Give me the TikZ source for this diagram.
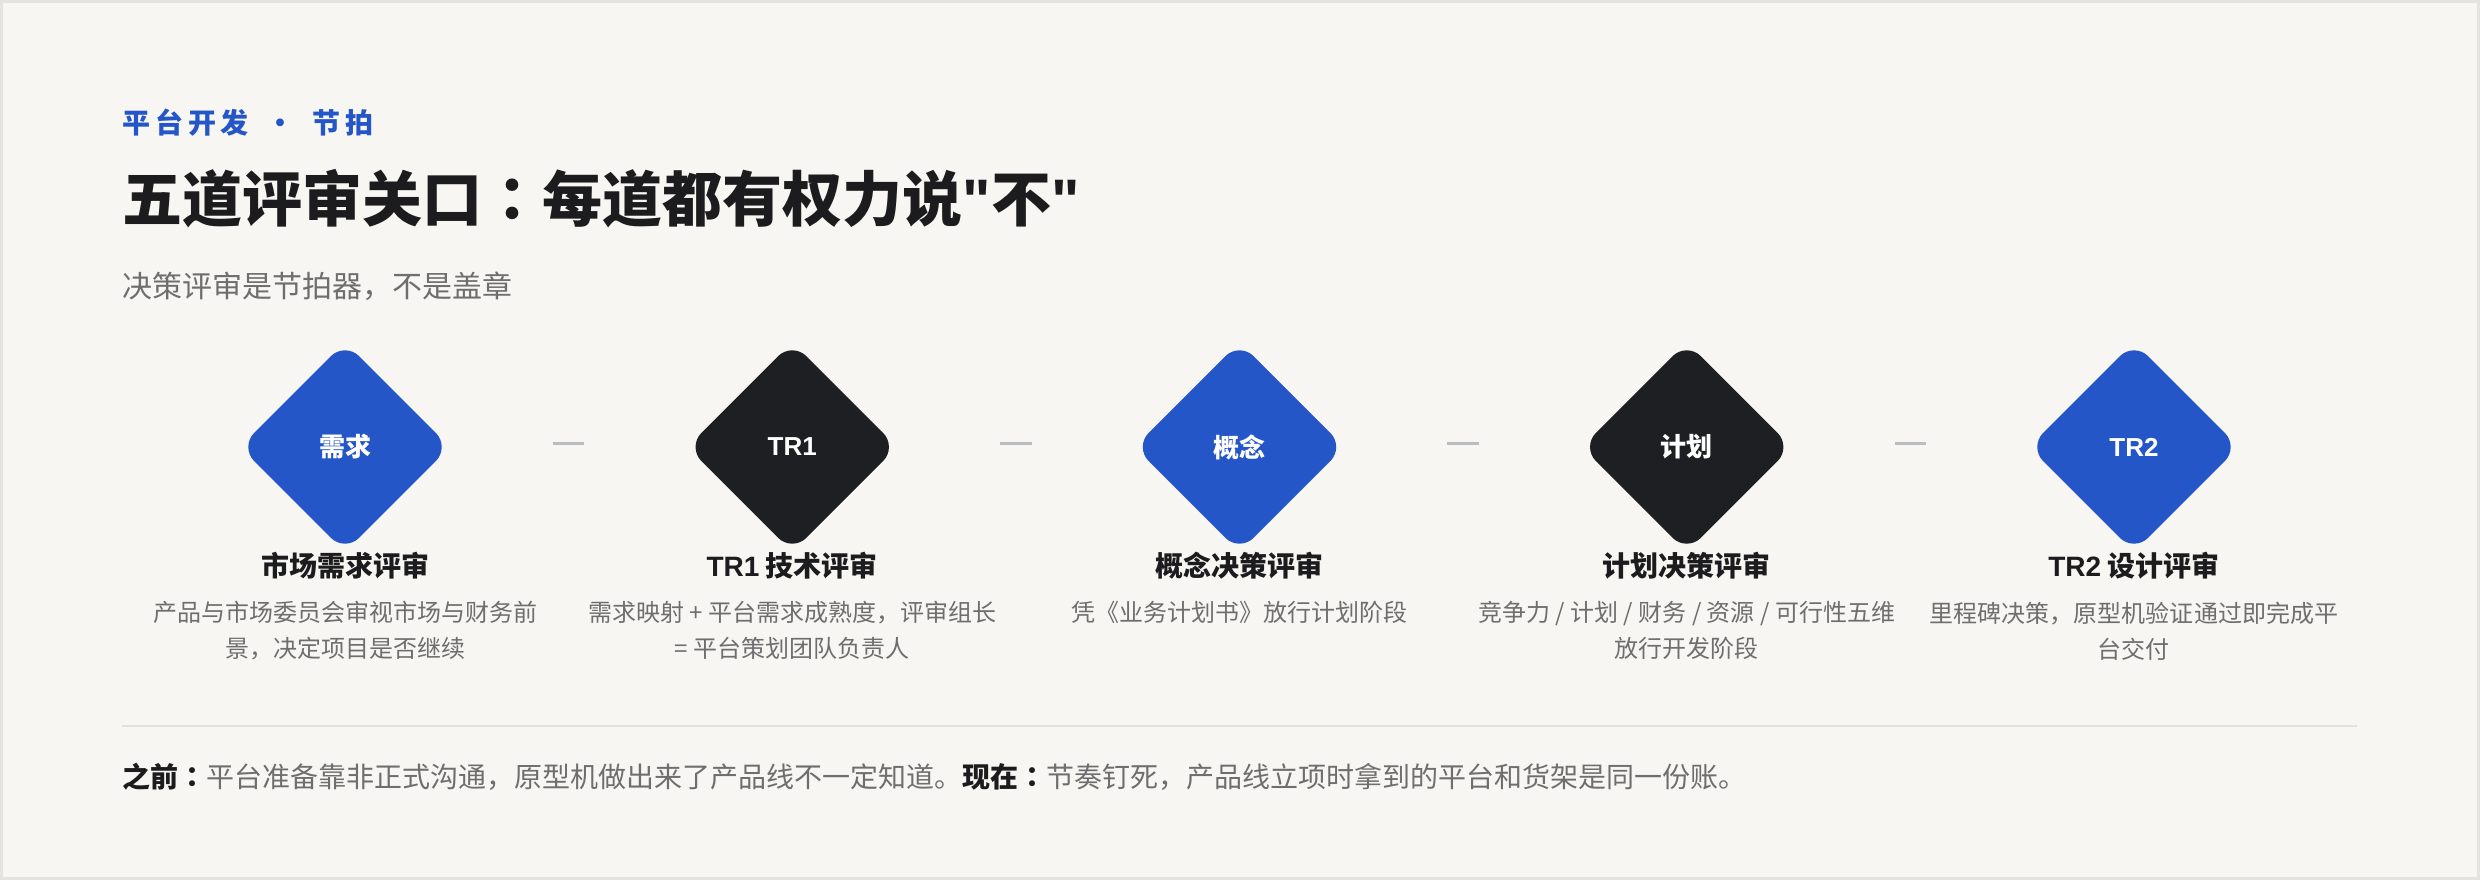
\documentclass[tikz,border=0pt]{standalone}
\usepackage{fontspec}
\setmainfont{Noto Sans CJK SC}[Ligatures=TeXOff]
\newfontfamily\lat{Liberation Sans}[Ligatures=TeXOff]
\newfontfamily\tcpunct{Noto Sans CJK TC}[Ligatures=TeXOff]
\usepackage{tikz}
\usetikzlibrary{shapes.geometric, positioning}
\definecolor{paper}{HTML}{F7F6F2}
\definecolor{frame}{HTML}{E4E3DE}
\definecolor{brandblue}{HTML}{2456C8}
\definecolor{gateink}{HTML}{1E1F22}
\definecolor{ink}{HTML}{1C1C1E}
\definecolor{muted}{HTML}{6E6E6E}
\definecolor{dashgray}{HTML}{B9BCC1}
\definecolor{rulegray}{HTML}{E2E1DC}
\tikzstyle{gate}      = [diamond, aspect=1, minimum width=52.65pt, minimum height=52.65pt, inner sep=0pt, rounded corners=5pt, text=white, font=\fontsize{6.5}{7}\selectfont\bfseries]
\tikzstyle{gateblue}  = [gate, fill=brandblue]
\tikzstyle{gatedark}  = [gate, fill=gateink]
\tikzstyle{gatename}  = [inner sep=0pt, text=ink, font=\fontsize{7}{8}\selectfont\bfseries]
\tikzstyle{gatenote}  = [inner sep=0pt, align=center, text=muted, font=\fontsize{6}{9}\selectfont]
\tikzstyle{link}      = [draw=dashgray, line width=0.75pt, shorten <=25.45pt, shorten >=25.45pt]

\begin{document}
\begin{tikzpicture}[x=0.25pt, y=0.25pt, node distance=111.81pt]
      \fill [paper] (0,0) rectangle (2480,880);
      \draw [frame, line width=0.75pt] (1.5,1.5) rectangle (2478.5,878.5);

      \node (kicker) [anchor=west, inner sep=0pt, text=brandblue, font=\fontsize{7}{8}\selectfont\bfseries] at (122,757) {平\,台\,开\,发\hspace{4.5pt}·\hspace{4.5pt}节\,拍};
      \node (title)  [anchor=west, inner sep=0pt, text=ink, font=\fontsize{15}{18}\selectfont\bfseries] at (122,681) {五道评审关口{\tcpunct ：}每道都有权力说{\lat "}不{\lat "}};
      \node (sub)    [anchor=west, inner sep=0pt, text=muted, font=\fontsize{7.5}{10}\selectfont] at (122,594) {决策评审是节拍器，不是盖章};

      \node (g1) [gateblue] at (345,433) {需求};
      \node (g2) [gatedark, right of=g1] {\lat TR1};
      \node (g3) [gateblue, right of=g2] {概念};
      \node (g4) [gatedark, right of=g3] {计划};
      \node (g5) [gateblue, right of=g4] {\lat TR2};

      \node (n1) [gatename, below=-0.5pt of g1] {市场需求评审};
      \node (n2) [gatename, below=-0.5pt of g2] {{\lat TR1} 技术评审};
      \node (n3) [gatename, below=-0.5pt of g3] {概念决策评审};
      \node (n4) [gatename, below=-0.5pt of g4] {计划决策评审};
      \node (n5) [gatename, below=-0.5pt of g5] {{\lat TR2} 设计评审};

      \node (d1) [gatenote, below=5.25pt of n1] {产品与市场委员会审视市场与财务前\\景，决定项目是否继续};
      \node (d2) [gatenote, below=5.25pt of n2] {需求映射 + 平台需求成熟度，评审组长\\= 平台策划团队负责人};
      \node (d3) [gatenote, below=5.25pt of n3] {凭《业务计划书》放行计划阶段};
      \node (d4) [gatenote, below=5.25pt of n4] {竞争力 / 计划 / 财务 / 资源 / 可行性五维\\放行开发阶段};
      \node (d5) [gatenote, below=5.25pt of n5] {里程碑决策，原型机验证通过即完成平\\台交付};

      \draw [link] ([yshift=1pt]g1.east) -- ([yshift=1pt]g2.west);
      \draw [link] ([yshift=1pt]g2.east) -- ([yshift=1pt]g3.west);
      \draw [link] ([yshift=1pt]g3.east) -- ([yshift=1pt]g4.west);
      \draw [link] ([yshift=1pt]g4.east) -- ([yshift=1pt]g5.west);

      \draw [rulegray, line width=0.5pt] (122,154) -- (2357,154);
      \node (note) [anchor=west, inner sep=0pt, text=muted, font=\fontsize{7}{9}\selectfont] at (122,103) {\textcolor{ink}{\bfseries 之前{\tcpunct ：}}平台准备靠非正式沟通，原型机做出来了产品线不一定知道。\textcolor{ink}{\bfseries 现在{\tcpunct ：}}节奏钉死，产品线立项时拿到的平台和货架是同一份账。};
\end{tikzpicture}
\end{document}
